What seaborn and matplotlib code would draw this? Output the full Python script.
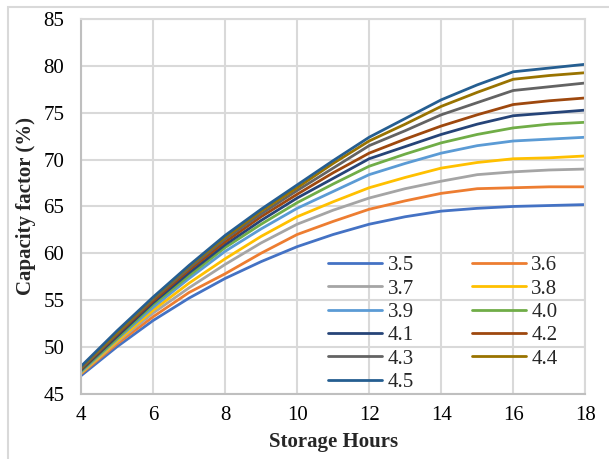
import numpy as np
import pandas as pd
import matplotlib
matplotlib.use("Agg")
import matplotlib.pyplot as plt
import seaborn as sns
from matplotlib.patches import Rectangle

# Data (capacity factor, %)
hours = [4, 5, 6, 7, 8, 9, 10, 11, 12, 13, 14, 15, 16, 17, 18]
series_labels = ["3.5", "3.6", "3.7", "3.8", "3.9", "4.0", "4.1", "4.2", "4.3", "4.4", "4.5"]

cf_35 = [46.9, 50.0, 52.8, 55.2, 57.3, 59.1, 60.7, 62.0, 63.1, 63.9, 64.5, 64.8, 65.0, 65.1, 65.2]
cf_36 = [47.1, 50.3, 53.2, 55.8, 57.8, 60.0, 62.0, 63.4, 64.7, 65.6, 66.4, 66.9, 67.0, 67.1, 67.1]
cf_37 = [47.2, 50.5, 53.6, 56.3, 58.8, 61.1, 63.1, 64.6, 65.9, 66.9, 67.7, 68.4, 68.7, 68.9, 69.0]
cf_38 = [47.2, 50.6, 53.9, 56.8, 59.4, 61.8, 63.9, 65.5, 67.0, 68.1, 69.1, 69.7, 70.1, 70.2, 70.4]
cf_39 = [47.3, 50.8, 54.2, 57.3, 60.2, 62.6, 64.8, 66.6, 68.4, 69.6, 70.7, 71.5, 72.0, 72.2, 72.4]
cf_40 = [47.4, 50.9, 54.5, 57.6, 60.6, 63.1, 65.4, 67.4, 69.3, 70.6, 71.8, 72.7, 73.4, 73.8, 74.0]
cf_41 = [47.5, 51.1, 54.7, 57.9, 60.9, 63.5, 65.9, 68.0, 70.1, 71.4, 72.7, 73.8, 74.7, 75.0, 75.3]
cf_42 = [47.6, 51.3, 54.9, 58.2, 61.2, 63.9, 66.3, 68.6, 70.7, 72.2, 73.6, 74.8, 75.9, 76.3, 76.6]
cf_43 = [47.7, 51.4, 55.1, 58.4, 61.5, 64.2, 66.7, 69.1, 71.5, 73.1, 74.8, 76.1, 77.4, 77.8, 78.2]
cf_44 = [47.8, 51.5, 55.2, 58.6, 61.7, 64.5, 67.0, 69.6, 72.0, 73.8, 75.7, 77.2, 78.6, 79.0, 79.3]
cf_45 = [47.9, 51.7, 55.3, 58.7, 61.9, 64.7, 67.3, 69.9, 72.4, 74.4, 76.4, 78.0, 79.4, 79.8, 80.2]

all_series = [cf_35, cf_36, cf_37, cf_38, cf_39, cf_40, cf_41, cf_42, cf_43, cf_44, cf_45]
colors = ["#4472C4", "#ED7D31", "#A5A5A5", "#FFC000", "#5B9BD5", "#70AD47",
          "#264478", "#9E480E", "#636363", "#997300", "#255E91"]

rows = []
for lab, vals in zip(series_labels, all_series):
    for h, v in zip(hours, vals):
        rows.append({"hours": h, "cf": v, "series": lab})
df = pd.DataFrame(rows)

sns.set_theme(style="whitegrid")
plt.rcParams["font.family"] = ["Liberation Serif", "DejaVu Serif"]

fig = plt.figure(figsize=(6.09, 4.59), dpi=100)
ax = fig.add_axes([0.133, 0.1427, 0.828, 0.815])

sns.lineplot(data=df, x="hours", y="cf", hue="series", hue_order=series_labels,
             palette=colors, linewidth=2.0, ax=ax)

ax.set_xlim(4, 18)
ax.set_ylim(45, 85)
ax.set_xticks(range(4, 19, 2))
ax.set_yticks(range(45, 86, 5))
ax.grid(True, color="#D9D9D9", linewidth=1.5)
for s in ax.spines.values():
    s.set_color("#D9D9D9")
    s.set_linewidth(1.5)
ax.spines["left"].set_color("#BFBFBF")
ax.spines["bottom"].set_color("#BFBFBF")
ax.tick_params(axis="both", length=0, labelsize=15, colors="black")
ax.tick_params(axis="y", pad=12)
ax.tick_params(axis="x", pad=9)

ax.set_xlabel("Storage Hours", fontsize=15, fontweight="bold", labelpad=5)
ax.set_ylabel("Capacity factor (%)", fontsize=15, fontweight="bold", labelpad=5)

# Excel fills the legend row by row; matplotlib fills columns, so reorder
handles, labels = ax.get_legend_handles_labels()
order = list(range(0, len(labels), 2)) + list(range(1, len(labels), 2))
leg = ax.legend([handles[i] for i in order], [labels[i] for i in order],
                loc="upper left", bbox_to_anchor=(0.49, 0.368), ncol=2, frameon=False,
                fontsize=15, handlelength=2.6, handletextpad=0.25, columnspacing=2.8,
                labelspacing=0.18, borderpad=0, borderaxespad=0)
for line in leg.get_lines():
    line.set_linewidth(2.0)

# light outer frame like the original figure box
fig.patches.append(Rectangle((8 / 609, -0.05), 1.1, 1.05 - 7 / 459,
                             transform=fig.transFigure, fill=False,
                             edgecolor="#D9D9D9", linewidth=1.5))

fig.savefig("out.png", dpi=100)
